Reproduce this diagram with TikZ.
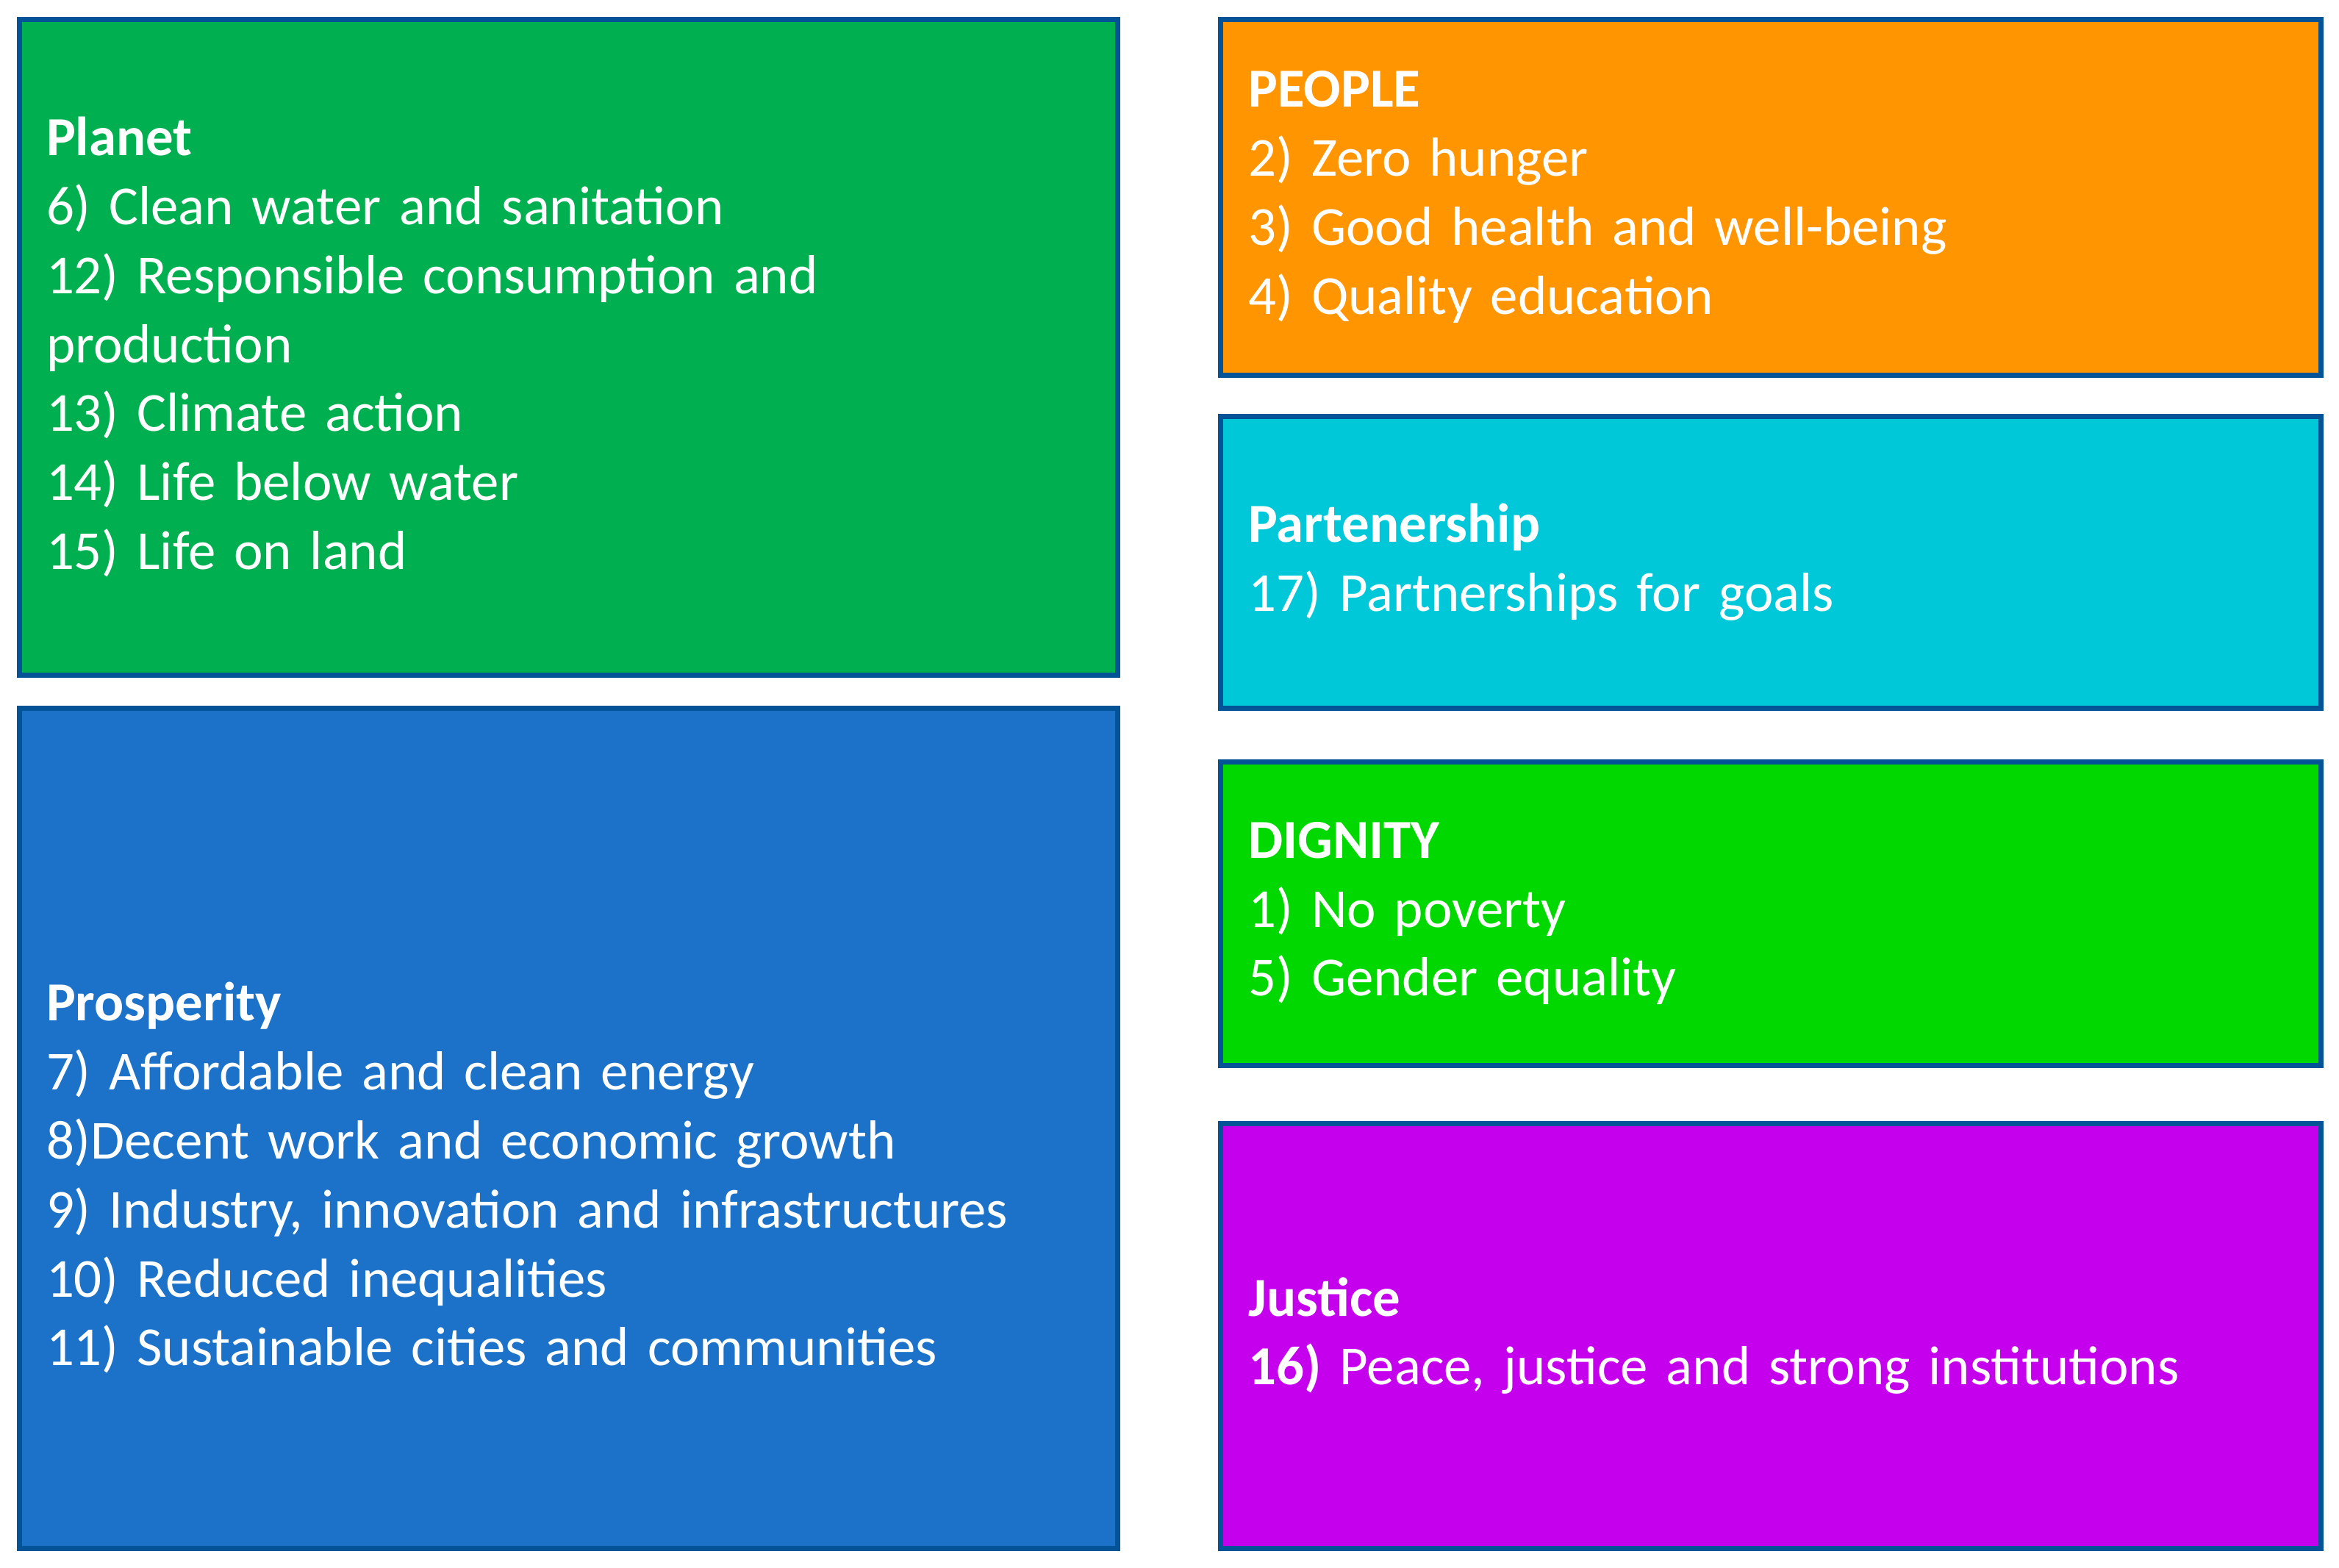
\documentclass[tikz,border=0pt]{standalone}
\usepackage{fontspec}
\setmainfont{Carlito}
\usepackage{tikz}
\usetikzlibrary{positioning}
\definecolor{planetgreen}{RGB}{0, 176, 80}
\definecolor{prosperityblue}{RGB}{27, 114, 200}
\definecolor{peopleorange}{RGB}{255, 149, 0}
\definecolor{partnercyan}{RGB}{0, 200, 216}
\definecolor{dignitygreen}{RGB}{0, 216, 0}
\definecolor{justicepurple}{RGB}{196, 0, 236}
\definecolor{boxborder}{RGB}{4, 83, 150}
\tikzstyle{goalbox} = [rectangle, draw=boxborder, line width=0.07cm, text=white,
                       minimum width=14.94cm, text width=14.2cm, align=left,
                       inner xsep=0.37cm, font=\fontsize{21.3}{26.7}\selectfont]

\begin{document}
\begin{tikzpicture}
    \useasboundingbox (0,0) rectangle (31.82,-21.32);
    % Left column
    \node[goalbox, fill=planetgreen, minimum height=8.92cm, anchor=north west] (planet) at (0.225,-0.225)
        {\textbf{Planet}\\6) Clean water and sanitation\\12) Responsible consumption and\\production\\13) Climate action\\14) Life below water\\15) Life on land};
    \node[goalbox, fill=prosperityblue, minimum height=11.43cm, below=0.38cm of planet] (prosperity)
        {\rule{0pt}{1.88cm}\textbf{Prosperity}\\7) Affordable and clean energy\\8)Decent work and economic growth\\9) Industry, innovation and infrastructures\\10) Reduced inequalities\\11) Sustainable cities and communities};
    % Right column
    \node[goalbox, fill=peopleorange, minimum width=14.97cm, minimum height=4.84cm,
          right=1.33cm of planet.north east, anchor=north west] (people)
        {\textbf{PEOPLE}\\2) Zero hunger\\3) Good health and well-being\\4) Quality education};
    \node[goalbox, fill=partnercyan, minimum width=14.97cm, minimum height=3.97cm, below=0.49cm of people] (partnership)
        {\textbf{Partenership}\\17) Partnerships for goals};
    \node[goalbox, fill=dignitygreen, minimum width=14.97cm, minimum height=4.13cm, below=0.66cm of partnership] (dignity)
        {\textbf{DIGNITY}\\1) No poverty\\5) Gender equality};
    \node[goalbox, fill=justicepurple, minimum width=14.97cm, minimum height=5.78cm, below=0.72cm of dignity] (justice)
        {\textbf{Justice}\\\textbf{16)} Peace, justice and strong institutions};
\end{tikzpicture}
\end{document}
